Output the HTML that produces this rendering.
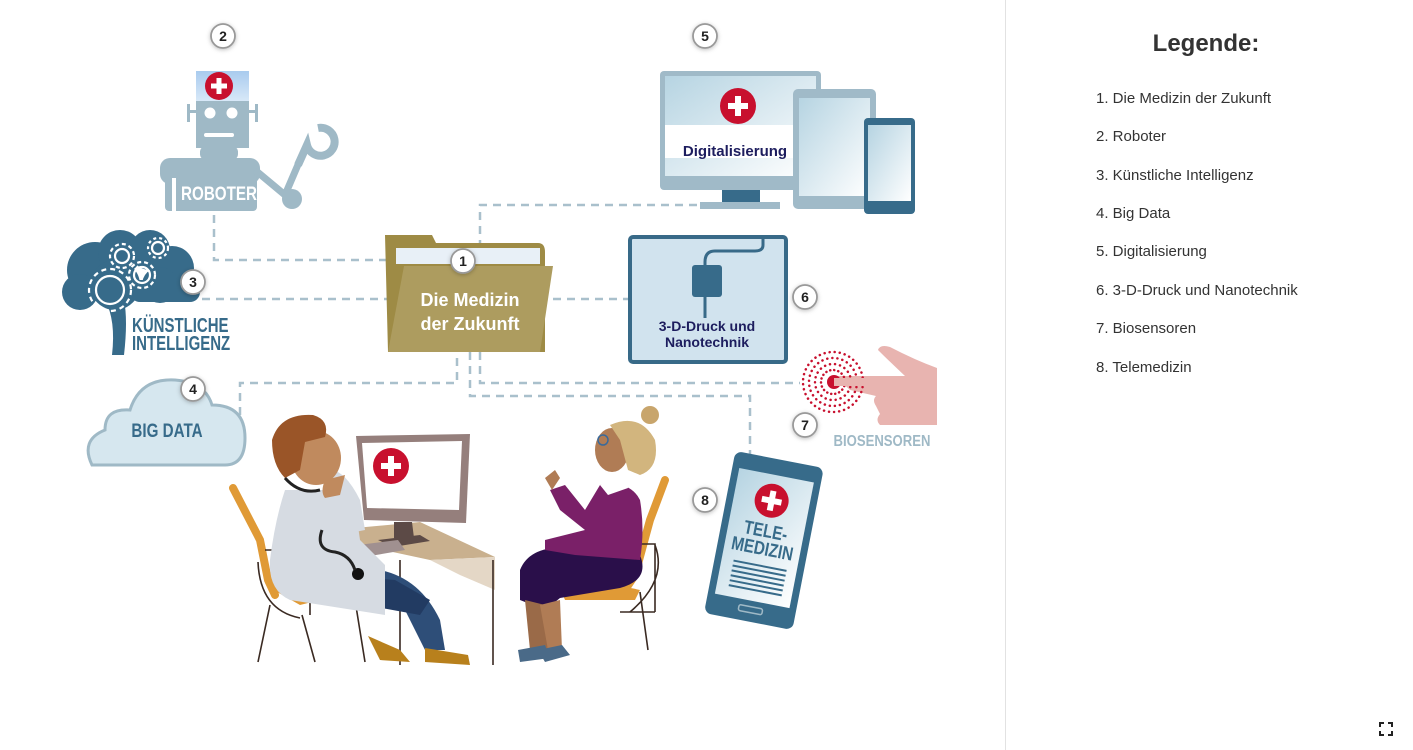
<!DOCTYPE html>
<html><head><meta charset="utf-8"><style>
html,body{margin:0;padding:0;background:#fff;width:1413px;height:750px;overflow:hidden;font-family:"Liberation Sans",sans-serif}
#side{position:absolute;left:1005px;top:0;width:408px;height:750px;border-left:1px solid #e2e2e2}
h2{position:absolute;left:0;width:400px;top:30px;margin:0;text-align:center;font-size:24px;color:#333;font-weight:bold}
.li{position:absolute;left:90px;font-size:15px;color:#333}
</style></head><body>
<svg width="1005" height="750" style="position:absolute;left:0;top:0" font-family="Liberation Sans, sans-serif">
<defs>
<linearGradient id="scr" x1="0" y1="0" x2="1" y2="1"><stop offset="0" stop-color="#b6d4e2"/><stop offset="1" stop-color="#fff"/></linearGradient>
<linearGradient id="cap" x1="0" y1="0" x2="0" y2="1"><stop offset="0" stop-color="#a9cbee"/><stop offset="1" stop-color="#d9e9f8"/></linearGradient>
<filter id="sh" x="-50%" y="-50%" width="200%" height="200%"><feDropShadow dx="0" dy="1" stdDeviation="2" flood-opacity="0.25"/></filter>
</defs>
<g fill="none" stroke="#a9c0cc" stroke-width="2.5" stroke-dasharray="8 6">
<path d="M214 215V260H392"/>
<path d="M202 299H392"/>
<path d="M553 299H630"/>
<path d="M480 262V205H697"/>
<path d="M240 415V383H457V352"/>
<path d="M480 352V383H800"/>
<path d="M470 352V396H750V456"/>
</g>
<!-- robot -->
<g fill="#9fb9c6">
<rect x="196" y="71" width="53" height="31" fill="url(#cap)"/>
<rect x="196" y="101" width="53" height="47"/>
<rect x="188" y="110" width="8" height="3"/><rect x="187" y="104" width="3" height="18"/>
<rect x="249" y="110" width="8" height="3"/><rect x="255" y="104" width="3" height="18"/>
<rect x="200" y="146" width="38" height="14" rx="6"/>
<rect x="160" y="158" width="100" height="26" rx="10"/>
<rect x="165" y="175" width="92" height="36" rx="4"/>
<path d="M255 170 L285 195 L300 160" stroke="#9fb9c6" stroke-width="7" fill="none"/>
<circle cx="292" cy="199" r="10"/>
<path d="M298 165 L307 145 A14 14 0 1 0 318 128" stroke="#9fb9c6" stroke-width="8" fill="none"/>
</g>
<rect x="172" y="178" width="4" height="34" fill="#fff"/>
<circle cx="210" cy="113" r="5.5" fill="#fff"/><circle cx="232" cy="113" r="5.5" fill="#fff"/>
<rect x="204" y="133" width="30" height="4" rx="2" fill="#fff"/>
<circle cx="219" cy="86" r="14" fill="#c8102e"/><path d="M219 78v16M211 86h16" stroke="#fff" stroke-width="5"/>
<text x="219" y="200" text-anchor="middle" font-size="19" font-weight="bold" fill="#fff" transform="translate(219 0) scale(0.8 1) translate(-219 0)">ROBOTER</text>
<!-- AI brain -->
<g fill="#376b8a">
<circle cx="95" cy="270" r="28"/><circle cx="120" cy="252" r="22"/><circle cx="150" cy="250" r="20"/><circle cx="172" cy="268" r="22"/>
<circle cx="80" cy="292" r="18"/><circle cx="115" cy="285" r="25"/><circle cx="160" cy="285" r="18"/>
<rect x="130" y="280" width="70" height="22" rx="10"/>
<path d="M105 300 Q116 320 112 355 L124 355 Q128 320 124 300Z"/>
</g>
<g fill="none" stroke="#fff" stroke-width="2.2">
<circle cx="110" cy="290" r="14"/><circle cx="110" cy="290" r="21" stroke-dasharray="5 4"/>
<circle cx="142" cy="275" r="8"/><circle cx="142" cy="275" r="13" stroke-dasharray="4 3"/>
<circle cx="122" cy="256" r="7"/><circle cx="122" cy="256" r="12" stroke-dasharray="4 3"/>
<circle cx="158" cy="248" r="6"/><circle cx="158" cy="248" r="10" stroke-dasharray="3 3"/>
</g>
<g font-weight="bold" fill="#376b8a" font-size="20" transform="translate(132 0) scale(0.75 1)">
<text x="0" y="332">KÜNSTLICHE</text><text x="0" y="350">INTELLIGENZ</text></g>
<!-- big data -->
<path d="M92 465 Q80 440 105 430 Q105 408 130 410 Q140 378 175 380 Q205 382 212 405 Q245 405 245 438 Q245 465 225 465 Z" fill="#d6e7ef" stroke="#9fb9c6" stroke-width="3"/>
<text x="167" y="437" text-anchor="middle" font-size="19" font-weight="bold" fill="#376b8a" transform="translate(167 0) scale(0.8 1) translate(-167 0)">BIG DATA</text>
<!-- folder -->
<path d="M385 235H432L436 243H538Q545 243 545 252V352H388Z" fill="#9e8b45"/>
<rect x="396" y="248" width="144" height="16" fill="#e8f0f7"/>
<path d="M404 266H553L540 352H388Z" fill="#ad9c5f"/>
<g font-size="18" font-weight="bold" fill="#fff" text-anchor="middle"><text x="470" y="306">Die Medizin</text><text x="470" y="330">der Zukunft</text></g>
<!-- 3D box -->
<rect x="630" y="237" width="156" height="125" rx="3" fill="#d1e3ee" stroke="#386a88" stroke-width="4"/>
<path d="M763 237V245Q763 251 755 251H715Q705 251 705 262V300" fill="none" stroke="#386a88" stroke-width="3"/>
<rect x="692" y="265" width="30" height="32" rx="3" fill="#376b8a"/>
<path d="M705 297V318" stroke="#386a88" stroke-width="3"/>
<g font-size="14" font-weight="bold" fill="#1d1d5e" text-anchor="middle"><text x="707" y="331">3-D-Druck und</text><text x="707" y="347">Nanotechnik</text></g>
<!-- digital -->
<rect x="660" y="71" width="161" height="119" rx="4" fill="#a0bac8"/>
<rect x="665" y="76" width="151" height="100" fill="url(#scr)"/>
<rect x="665" y="125" width="130" height="33" fill="#fff"/>
<circle cx="738" cy="106" r="18" fill="#c8102e"/><path d="M738 96v20M728 106h20" stroke="#fff" stroke-width="6"/>
<text x="735" y="156" text-anchor="middle" font-size="15" font-weight="bold" fill="#1d1d5e">Digitalisierung</text>
<rect x="722" y="190" width="38" height="12" fill="#376b8a"/><rect x="700" y="202" width="80" height="7" fill="#a0bac8"/>
<rect x="793" y="89" width="83" height="120" rx="5" fill="#a0bac8"/><rect x="799" y="98" width="71" height="98" fill="url(#scr)"/>
<rect x="864" y="118" width="51" height="96" rx="4" fill="#376b8a"/><rect x="868" y="125" width="43" height="76" fill="url(#scr)"/>
<!-- biosensor -->
<path d="M835 376H905Q890 362 878 350Q880 344 890 347Q915 360 937 368V425H880Q875 420 880 414L876 406Q872 400 876 396L850 390Z" fill="#e8b4b0"/>
<g fill="none" stroke="#c8102e" stroke-width="2.5" stroke-linecap="round">
<circle cx="833" cy="382" r="30" stroke-dasharray="0.1 5"/><circle cx="833" cy="382" r="24" stroke-dasharray="0.1 5"/>
<circle cx="833" cy="382" r="18" stroke-dasharray="0.1 5"/><circle cx="833" cy="382" r="12" stroke-dasharray="0.1 4"/></g>
<circle cx="834" cy="382" r="7" fill="#c8102e"/>
<path d="M834 378H880V386H834Z" fill="#e8b4b0"/>
<text x="882" y="446" text-anchor="middle" font-size="16" font-weight="bold" fill="#9fb9c6" transform="translate(882 0) scale(0.82 1) translate(-882 0)">BIOSENSOREN</text>
<!-- telemedicine phone -->
<g transform="rotate(11 764 540)">
<rect x="719" y="458" width="90" height="165" rx="7" fill="#376b8a"/>
<rect x="726" y="474" width="76" height="128" fill="url(#scr)"/>
<rect x="752" y="608" width="24" height="6" rx="2" fill="none" stroke="#9fb9c6" stroke-width="1.5"/>
<circle cx="764" cy="500" r="17" fill="#c8102e"/><path d="M764 490v20M754 500h20" stroke="#fff" stroke-width="6"/>
<g font-size="19" font-weight="bold" fill="#376b8a" text-anchor="middle" transform="translate(764 0) scale(0.8 1) translate(-764 0)"><text x="764" y="537">TELE-</text><text x="764" y="555">MEDIZIN</text></g>
<g stroke="#376b8a" stroke-width="2"><path d="M738 566h54M738 571h54M738 576h54M738 581h54M738 586h54M738 591h54"/></g>
</g>
<!-- doctor chair -->
<path d="M233 488L260 540L268 580L275 595" stroke="#e09a36" stroke-width="8" fill="none" stroke-linecap="round"/>
<path d="M270 588Q300 590 320 600L300 605Z" fill="#e09a36"/>
<g stroke="#3a2a22" stroke-width="1.6" fill="none">
<path d="M265 550H310V615"/><path d="M258 562Q260 610 300 618"/><path d="M270 605L258 662M302 615L315 662M355 600L365 662"/></g>
<!-- desk -->
<path d="M355 528L420 522L495 557L430 560L360 545Z" fill="#c9b08e"/>
<path d="M430 560L495 557L495 590L460 575Z" fill="#e4d7c6"/>
<path d="M400 560V665M493 560V665" stroke="#3a2a22" stroke-width="1.6"/>
<!-- monitor -->
<path d="M356 436L470 434L466 523L364 520Z" fill="#957f7c"/>
<path d="M362 443L462 441L459 510L367 508Z" fill="#fff"/>
<circle cx="391" cy="466" r="18" fill="#c8102e"/><path d="M391 456v20M381 466h20" stroke="#fff" stroke-width="6"/>
<path d="M394 522H412L414 538H394Z" fill="#5c4a46"/><path d="M378 540L420 535L430 541L393 547Z" fill="#5c4a46"/>
<path d="M358 545L398 540L405 550L370 556Z" fill="#a09090"/>
<!-- doctor -->
<path d="M330 565L380 570Q420 578 440 620L445 650L425 650L405 610L375 595Z" fill="#2e4e78"/>
<path d="M335 575L395 580L430 600L420 615L365 605Z" fill="#223b62"/>
<path d="M425 648L468 655L470 665L425 662Z" fill="#b8801c"/>
<path d="M368 636L400 650L410 662L380 660Z" fill="#b8801c"/>
<path d="M285 490Q275 520 270 560Q268 590 290 600L385 615L385 565L360 540L355 505L330 490Z" fill="#d6dbe2"/>
<path d="M330 470Q345 470 360 500L365 530L340 535L325 500Z" fill="#d6dbe2"/>
<path d="M325 480Q320 492 325 498L340 495L345 475Z" fill="#c08a5e"/>
<ellipse cx="316" cy="458" rx="25" ry="27" fill="#c08a5e"/>
<path d="M272 440Q280 413 313 415Q330 420 325 437L305 442L300 470L285 478Q272 465 272 440Z" fill="#9a5528"/>
<path d="M285 478Q300 495 320 490" stroke="#222" stroke-width="3" fill="none"/>
<circle cx="358" cy="574" r="6" fill="#111"/>
<path d="M322 530Q315 550 335 552Q350 555 355 570" stroke="#222" stroke-width="3" fill="none"/>
<!-- woman chair -->
<path d="M665 480L650 520L635 575L625 590" stroke="#e09a36" stroke-width="8" fill="none" stroke-linecap="round"/>
<path d="M560 588Q600 580 640 590L635 600L565 600Z" fill="#e09a36"/>
<g stroke="#3a2a22" stroke-width="1.6" fill="none">
<path d="M600 544H655V612M655 545Q668 580 630 612"/><path d="M552 592L545 660M640 592L648 650M620 612H655"/></g>
<!-- woman -->
<path d="M520 570Q530 545 570 548L640 555Q650 580 620 588L560 598L545 610L520 600Z" fill="#2a0f4a"/>
<path d="M525 600L545 605L548 650L530 650Z" fill="#9a6a48"/>
<path d="M540 605L560 600L562 650L548 650Z" fill="#b07c55"/>
<path d="M518 650L545 645L550 658L520 662Z" fill="#4a6a88"/>
<path d="M538 650L562 645L570 655L545 662Z" fill="#4a6a88"/>
<path d="M600 485Q630 480 640 500Q645 530 640 560L575 555L545 550L545 540L585 530L560 510L550 490L565 485L585 510Z" fill="#7a2068"/>
<path d="M600 485L625 478L628 488L608 495Z" fill="#fff"/>
<ellipse cx="612" cy="450" rx="17" ry="22" fill="#b07c55"/>
<path d="M610 425Q640 412 655 440Q660 468 640 475L628 470L620 440Z" fill="#d2b57e"/>
<circle cx="650" cy="415" r="9" fill="#c8a56c"/>
<circle cx="603" cy="440" r="5" fill="none" stroke="#3a6a9a" stroke-width="1.5"/>
<path d="M545 478L555 470L560 478L552 490Z" fill="#b07c55"/>
<!-- number badges -->
<g filter="url(#sh)" fill="#fff" stroke="#999" stroke-width="1.8">
<circle cx="223" cy="36" r="12"/><circle cx="705" cy="36" r="12"/><circle cx="463" cy="261" r="12"/><circle cx="193" cy="282" r="12"/>
<circle cx="805" cy="297" r="12"/><circle cx="193" cy="389" r="12"/><circle cx="805" cy="425" r="12"/><circle cx="705" cy="500" r="12"/></g>
<g font-size="14" font-weight="bold" fill="#222" text-anchor="middle">
<text x="223" y="41">2</text><text x="705" y="41">5</text><text x="463" y="266">1</text><text x="193" y="287">3</text>
<text x="805" y="302">6</text><text x="193" y="394">4</text><text x="805" y="430">7</text><text x="705" y="505">8</text></g>
</svg>
<div id="side">
<h2>Legende:</h2>
<div class="li" style="top:90px">1. Die Medizin der Zukunft</div>
<div class="li" style="top:128px">2. Roboter</div>
<div class="li" style="top:167px">3. Künstliche Intelligenz</div>
<div class="li" style="top:205px">4. Big Data</div>
<div class="li" style="top:243px">5. Digitalisierung</div>
<div class="li" style="top:282px">6. 3-D-Druck und Nanotechnik</div>
<div class="li" style="top:320px">7. Biosensoren</div>
<div class="li" style="top:359px">8. Telemedizin</div>
<svg style="position:absolute;left:373px;top:722px" width="14" height="14"><path d="M1 5V1H5M9 1H13V5M13 9V13H9M5 13H1V9" fill="none" stroke="#222" stroke-width="2"/></svg>
</div>
</body></html>
